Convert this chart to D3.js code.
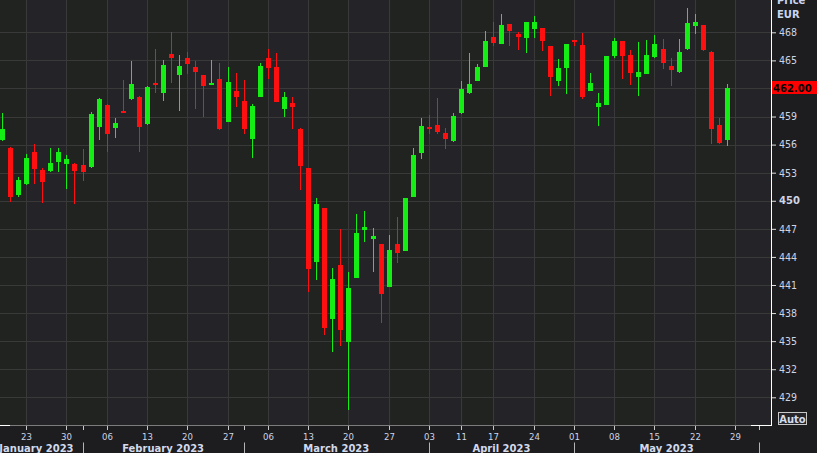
<!DOCTYPE html>
<html><head><meta charset="utf-8">
<script src="https://cdn.jsdelivr.net/npm/d3@7"></script>
<style>
html,body{margin:0;padding:0;background:#1d1d1f;overflow:hidden;}
svg{display:block;}
</style></head>
<body>
<svg id="chart" width="817" height="453"></svg>
<script>
// ---- data ----
const dates = ["2023-01-18","2023-01-19","2023-01-20","2023-01-23","2023-01-24","2023-01-25","2023-01-26","2023-01-27","2023-01-30","2023-01-31",
"2023-02-01","2023-02-02","2023-02-03","2023-02-06","2023-02-07","2023-02-08","2023-02-09","2023-02-10","2023-02-13","2023-02-14",
"2023-02-15","2023-02-16","2023-02-17","2023-02-20","2023-02-21","2023-02-22","2023-02-23","2023-02-24","2023-02-27","2023-02-28",
"2023-03-01","2023-03-02","2023-03-03","2023-03-06","2023-03-07","2023-03-08","2023-03-09","2023-03-10","2023-03-13","2023-03-14",
"2023-03-15","2023-03-16","2023-03-17","2023-03-20","2023-03-21","2023-03-22","2023-03-23","2023-03-24","2023-03-27","2023-03-28",
"2023-03-29","2023-03-30","2023-03-31","2023-04-03","2023-04-04","2023-04-05","2023-04-06","2023-04-11","2023-04-12","2023-04-13",
"2023-04-14","2023-04-17","2023-04-18","2023-04-19","2023-04-20","2023-04-21","2023-04-24","2023-04-25","2023-04-26","2023-04-27",
"2023-04-28","2023-05-01","2023-05-02","2023-05-03","2023-05-04","2023-05-05","2023-05-08","2023-05-09","2023-05-10","2023-05-11",
"2023-05-12","2023-05-15","2023-05-16","2023-05-17","2023-05-18","2023-05-19","2023-05-22","2023-05-23","2023-05-24","2023-05-25",
"2023-05-26"];
const futureDates = ["2023-05-29","2023-05-30","2023-05-31","2023-06-01"];

const open = [456.49,455.64,450.62,451.79,455.21,453.29,453.18,454.14,453.93,453.93,
453.82,453.61,457.91,460.23,457.81,459.64,460.87,461.09,458.23,462.61,
461.48,465.68,463.47,465.25,464.26,463.41,462.40,462.98,458.45,461.73,
460.66,456.63,461.12,465.25,464.26,459.80,460.48,457.67,453.50,443.49,
449.23,437.40,443.14,434.94,441.78,446.88,445.91,445.38,440.82,445.38,
444.66,450.40,455.14,457.88,458.09,457.24,456.38,459.38,461.51,462.80,
464.29,467.50,466.75,468.89,467.82,467.39,468.35,468.46,466.54,462.80,
464.19,467.18,466.64,461.73,460.02,460.23,465.47,467.07,465.57,463.22,
463.54,465.36,466.22,464.40,463.76,466.22,468.67,468.78,465.90,458.09,
456.49];
const high = [459.41,455.74,452.51,455.00,456.07,453.50,455.64,455.64,454.89,454.03,
455.50,459.48,460.98,460.34,458.84,462.90,464.93,461.15,462.26,466.22,
465.04,468.06,465.57,465.90,464.97,463.45,465.04,464.75,464.32,463.62,
462.90,460.34,464.75,466.18,465.82,461.62,461.12,457.78,453.55,450.26,
449.28,442.85,446.98,442.39,448.59,448.91,447.09,445.42,446.34,448.26,
450.32,455.64,458.84,459.16,460.98,457.77,459.38,462.80,465.79,464.61,
468.14,469.10,469.96,468.92,468.03,469.12,469.74,468.50,466.58,465.15,
466.78,467.20,467.93,463.65,461.51,465.50,467.39,467.10,466.11,466.96,
467.18,467.71,467.28,465.25,467.28,470.60,469.96,468.80,465.95,458.84,
462.48];
const low = [456.38,449.90,450.40,451.68,451.79,449.73,453.07,453.07,451.26,449.65,
452.11,453.50,456.49,455.21,456.71,459.41,460.80,455.21,458.10,461.51,
460.69,462.61,459.62,463.58,459.77,458.98,462.35,457.56,458.40,460.05,
457.10,454.60,461.10,462.98,460.50,458.98,457.64,451.15,440.28,441.57,
435.66,433.87,434.51,427.67,441.70,445.63,442.42,436.94,440.75,443.35,
444.60,450.35,454.49,457.13,457.13,455.53,456.30,459.30,461.45,462.75,
464.25,466.54,466.70,466.54,466.11,465.79,467.39,466.00,461.19,462.26,
461.41,466.54,460.87,461.70,457.99,460.20,465.25,463.01,462.37,461.19,
463.50,465.30,464.08,462.26,463.70,466.15,467.82,466.05,456.07,456.07,
455.85];
const close = [457.67,450.40,452.22,454.57,453.39,452.04,454.03,455.21,454.46,453.18,
453.07,459.27,460.87,457.13,458.31,459.54,462.48,457.91,462.16,462.40,
464.51,465.29,464.40,464.64,463.76,462.29,462.61,457.70,462.69,461.12,
457.70,460.13,464.40,464.22,460.58,461.05,460.05,453.75,442.74,449.65,
436.44,441.64,436.22,440.71,446.56,447.20,446.24,440.07,444.74,444.42,
450.29,454.89,457.99,457.67,457.35,456.60,459.06,461.94,462.48,464.29,
467.07,466.86,468.78,468.14,467.50,469.10,469.10,467.07,463.22,464.19,
466.75,466.96,461.09,462.58,460.45,465.47,467.07,465.47,463.65,463.76,
465.57,466.75,464.72,463.97,465.90,468.99,469.10,466.11,457.67,456.17,
462.00];

const yTicks = [429,432,435,438,441,444,447,450,453,456,459,462,465,468];
const boldTick = 450;
const xTickDates = ["2023-01-23","2023-01-30","2023-02-06","2023-02-13","2023-02-20","2023-02-27","2023-03-06","2023-03-13","2023-03-20","2023-03-27",
"2023-04-03","2023-04-11","2023-04-17","2023-04-24","2023-05-01","2023-05-08","2023-05-15","2023-05-22","2023-05-29"];
const months = ["January 2023","February 2023","March 2023","April 2023","May 2023"];
const lastPrice = 462.00;
const currency = "EUR";

// ---- layout ----
const W = 817, H = 453;
const plotR = 771, plotB = 425;
const allDates = dates.concat(futureDates);
const idxOf = d => allDates.indexOf(d);

const x = d3.scaleLinear().domain([0, 94]).range([2, 2 + 8.055 * 94]);
const y = d3.scaleLinear().domain([429, 468]).range([397.3, 32.3]);

const svg = d3.select("#chart");
const defs = svg.append("defs");
defs.append("clipPath").attr("id","plotclip").append("rect")
  .attr("x",0).attr("y",0).attr("width",plotR).attr("height",plotB);

const plot = svg.append("g").attr("clip-path","url(#plotclip)");

// weekly alternating bands
const tickIdx = xTickDates.map(idxOf);
const bandA = "#212320", bandB = "#242327";
plot.append("rect").attr("x",0).attr("y",0).attr("width",Math.round(x(tickIdx[0]))).attr("height",plotB).attr("fill",bandA);
tickIdx.forEach((t,k) => {
  const x0 = Math.round(x(t));
  const x1 = k < tickIdx.length-1 ? Math.round(x(tickIdx[k+1])) : plotR;
  plot.append("rect").attr("x",x0).attr("y",0).attr("width",x1-x0).attr("height",plotB)
    .attr("fill", k % 2 === 0 ? bandB : bandA);
});

// gridlines
const gridColor = "#393939";
plot.selectAll("line.hg").data(yTicks).join("line").attr("class","hg")
  .attr("x1",0).attr("x2",plotR)
  .attr("y1",d=>Math.round(y(d))+0.5).attr("y2",d=>Math.round(y(d))+0.5)
  .attr("stroke",gridColor).attr("stroke-width",1);
plot.selectAll("line.vg").data(tickIdx).join("line").attr("class","vg")
  .attr("x1",d=>Math.round(x(d))+0.5).attr("x2",d=>Math.round(x(d))+0.5)
  .attr("y1",0).attr("y2",plotB)
  .attr("stroke",gridColor).attr("stroke-width",1);

// candles
const UP = "#14ee14", DOWN = "#ff1010";
const candles = dates.map((d,i)=>({i, o:open[i], h:high[i], l:low[i], c:close[i]}));
const cg = plot.append("g");
candles.forEach(d => {
  const cx = Math.round(x(d.i));
  const col = d.c >= d.o ? UP : DOWN;
  cg.append("line").attr("x1",cx+0.5).attr("x2",cx+0.5)
    .attr("y1",Math.round(y(d.h))).attr("y2",Math.round(y(d.l)))
    .attr("stroke",col).attr("stroke-width",1);
  const top = Math.round(y(Math.max(d.o,d.c)));
  const bot = Math.round(y(Math.min(d.o,d.c)));
  cg.append("rect").attr("x",cx-2).attr("width",5)
    .attr("y",top).attr("height",Math.max(2, bot-top)).attr("fill",col);
});

// frame lines
svg.append("line").attr("x1",0).attr("x2",plotR+1).attr("y1",plotB+0.5).attr("y2",plotB+0.5)
  .attr("stroke","#7c7c7c");
svg.append("line").attr("x1",0).attr("x2",10).attr("y1",plotB+0.5).attr("y2",plotB+0.5)
  .attr("stroke","#ffffff");
svg.append("line").attr("x1",751).attr("x2",plotR+1).attr("y1",plotB+0.5).attr("y2",plotB+0.5)
  .attr("stroke","#ffffff");
svg.append("line").attr("x1",plotR+0.5).attr("x2",plotR+0.5).attr("y1",0).attr("y2",plotB+1)
  .attr("stroke","#ffffff");

const txtCol = "#cdd5e5";
// y axis
const yAxis = d3.axisRight(y).tickValues(yTicks).tickSize(4).tickPadding(3).tickFormat(d3.format("d"));
const yg = svg.append("g").attr("transform",`translate(${plotR+1},0)`).call(yAxis);
yg.select(".domain").remove();
yg.selectAll(".tick line").attr("stroke","#e0e0e0");
yg.selectAll(".tick text")
  .attr("fill",txtCol)
  .style("font-family", d => d===boldTick ? "'DejaVu Sans'" : "'DejaVu Sans Condensed','DejaVu Sans'")
  .style("font-stretch", d => d===boldTick ? "normal" : "condensed")
  .style("font-weight", d => d===boldTick ? "bold" : "normal")
  .style("font-size", d => d===boldTick ? "10px" : "10.5px");
// the last-price tag hides the tick label it sits on
yg.selectAll(".tick text").filter(d => Math.abs(y(d) - y(lastPrice)) < 8).remove();

// last price tag
svg.append("rect").attr("x",plotR+1).attr("y",Math.round(y(lastPrice))-7).attr("width",W-plotR-1).attr("height",13)
  .attr("fill","#ff0000");
svg.append("text").attr("x",plotR+2).attr("y",y(lastPrice)).attr("dy","0.35em")
  .attr("fill","#000").style("font-family","'DejaVu Sans'").style("font-weight","bold").style("font-size","10px")
  .text(lastPrice.toFixed(2));

// Price / EUR header
const hdr = svg.append("g").style("font-family","'DejaVu Sans'").style("font-weight","bold").style("font-size","10px").attr("fill","#c9d6f2");
hdr.append("text").attr("x",777).attr("y",4).text("Price");
hdr.append("text").attr("x",777).attr("y",18.3).text(currency);

// Auto box
svg.append("rect").attr("x",778.5).attr("y",412.5).attr("width",28).attr("height",12)
  .attr("fill","#26262a").attr("stroke","#c8c8c8").attr("stroke-width",1);
svg.append("text").attr("x",792.5).attr("y",422.5).attr("text-anchor","middle")
  .attr("fill","#d4dcec").style("font-family","'DejaVu Sans'").style("font-weight","bold").style("font-size","10px")
  .text("Auto");

// x axis
const xAxis = d3.axisBottom(x).tickValues(tickIdx).tickSize(4).tickPadding(3)
  .tickFormat(i => allDates[i].slice(8,10));
const xg = svg.append("g").attr("transform",`translate(0.5,${plotB+1})`).call(xAxis);
xg.select(".domain").remove();
xg.selectAll(".tick").attr("transform", d => `translate(${Math.round(x(d))},0)`);
xg.selectAll(".tick line").attr("stroke","#c8c8c8");
xg.selectAll(".tick text").attr("fill",txtCol)
  .style("font-family","'DejaVu Sans Condensed','DejaVu Sans'").style("font-stretch","condensed").style("font-size","9.5px");

// month boundaries
const monthStarts = [];
allDates.forEach((d,i) => { if (i>0 && d.slice(5,7) !== allDates[i-1].slice(5,7)) monthStarts.push(i); });
monthStarts.forEach(i => {
  const mx = Math.round(x(i)) + 0.5;
  svg.append("line").attr("x1",mx).attr("x2",mx).attr("y1",plotB+1).attr("y2",plotB+5).attr("stroke","#c8c8c8");
  svg.append("line").attr("x1",mx).attr("x2",mx).attr("y1",442.5).attr("y2",H).attr("stroke","#b4b4b4");
});
const mg = svg.append("g").style("font-family","'DejaVu Sans'").style("font-weight","bold").style("font-size","10px").attr("fill","#d2daec");
months.forEach((m,k) => {
  if (k === 0) {
    mg.append("text").attr("x", x(monthStarts[0]) - 9).attr("y",451.7).attr("text-anchor","end").text(m);
  } else {
    const cx = (x(monthStarts[k-1]) + x(monthStarts[k])) / 2;
    mg.append("text").attr("x", cx).attr("y",451.7).attr("text-anchor","middle").text(m);
  }
});
</script>
</body></html>
